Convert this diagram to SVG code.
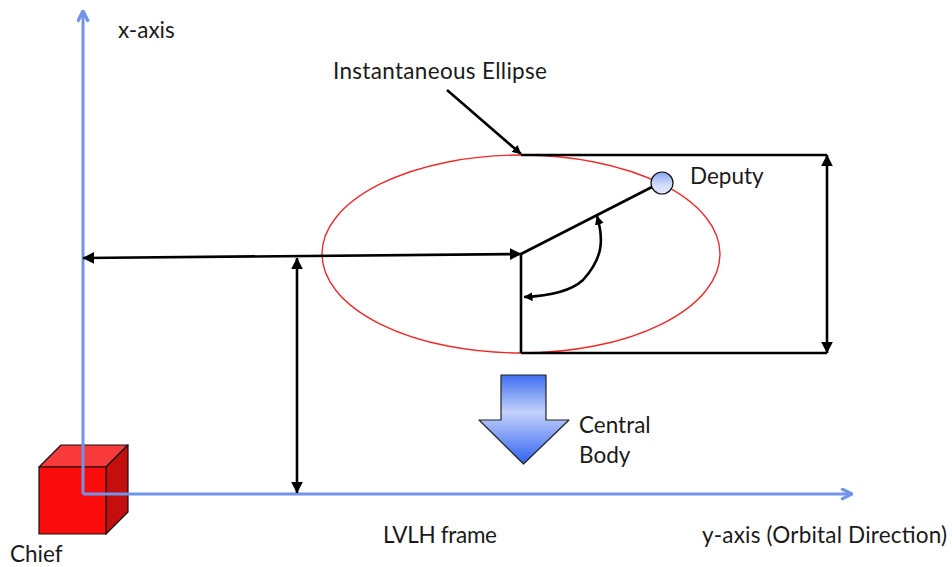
<svg xmlns="http://www.w3.org/2000/svg" width="952" height="567" viewBox="0 0 952 567">
<style>
text{font-family:Lato,"Open Sans","Liberation Sans",sans-serif;font-size:22.500px;fill:#1a1a1a}
.k{fill:none;stroke:#000;stroke-width:2.6}
.b{fill:none;stroke:#6f94e8;stroke-width:3}
.e{stroke:#111;stroke-width:1.2;stroke-linejoin:round}
</style>
<defs>
<marker id="ka" viewBox="0 0 10 10" refX="9.500" refY="5" markerUnits="userSpaceOnUse" markerWidth="12" markerHeight="12" orient="auto-start-reverse"><path d="M0 0L10 5L0 10Z" fill="#000"/></marker>
<marker id="ks" viewBox="0 0 10 10" refX="9.500" refY="5" markerUnits="userSpaceOnUse" markerWidth="9" markerHeight="9" orient="auto-start-reverse"><path d="M0 0L10 5L0 10Z" fill="#000"/></marker>
<marker id="ba" viewBox="0 0 12 12" refX="11" refY="6" markerUnits="userSpaceOnUse" markerWidth="13" markerHeight="13" orient="auto"><path d="M1 1L11 6L1 11" fill="none" stroke="#6f94e8" stroke-width="3"/></marker>
<linearGradient id="ga" x1="0" y1="0" x2="0" y2="1"><stop offset="0" stop-color="#3f6ff2"/><stop offset=".42" stop-color="#c3d2fb"/><stop offset="1" stop-color="#2f62f0"/></linearGradient>
<linearGradient id="gd" x1="0" y1="0" x2="0" y2="1"><stop offset="0" stop-color="#8aa6f5"/><stop offset=".6" stop-color="#d2ddfb"/><stop offset="1" stop-color="#dfe7fc"/></linearGradient>
</defs>
<g id="chief">
<path class="e" d="M39 467L61 445H128L106 467Z" fill="#f83a3a"/>
<path class="e" d="M106 467L128 445V512L106 534Z" fill="#c50f0f"/>
<rect class="e" x="39" y="467" width="67" height="67" fill="#fb0c0c"/>
<text x="10" y="562">Chief</text>
</g>
<g id="ellipse"><ellipse cx="521" cy="254" rx="199" ry="99" fill="none" stroke="#ee2a2a" stroke-width="1.400"/></g>
<g id="connectors">
<path class="b" d="M83 494V11" marker-end="url(#ba)"/>
<path class="b" d="M83 494H852" marker-end="url(#ba)"/>
<path class="k" d="M447 90L521 154" marker-end="url(#ks)"/>
<path class="k" d="M521 155H827"/>
<path class="k" d="M521 353H827"/>
<path class="k" d="M827 155V353" marker-start="url(#ka)" marker-end="url(#ka)"/>
<path class="k" d="M83 258L521 254" marker-start="url(#ka)" marker-end="url(#ka)"/>
<path class="k" d="M297 258V493" marker-start="url(#ka)" marker-end="url(#ka)"/>
<path class="k" d="M521 254V353"/>
<path class="k" d="M521 254L652 187"/>
<path class="k" d="M597 216C604 240 603 258 583 280C570 292 548 296 524 297" marker-start="url(#ks)" marker-end="url(#ks)"/>
</g>
<g id="deputy">
<circle class="e" cx="662" cy="183" r="11" fill="url(#gd)"/>
<text x="690" y="184">Deputy</text>
</g>
<g id="central-body">
<path d="M501 375H546V420H569L523.500 464L479 420H501Z" fill="url(#ga)" stroke="#222" stroke-width="1.200" stroke-linejoin="round"/>
<text x="579" y="433">Central</text>
<text x="579" y="463">Body</text>
</g>
<g id="labels">
<text x="118" y="38">x-axis</text>
<text x="333" y="79" textLength="214">Instantaneous Ellipse</text>
<text x="383" y="543" textLength="114">LVLH frame</text>
<text x="702" y="543" textLength="245">y-axis (Orbital Direction)</text>
</g>
</svg>
